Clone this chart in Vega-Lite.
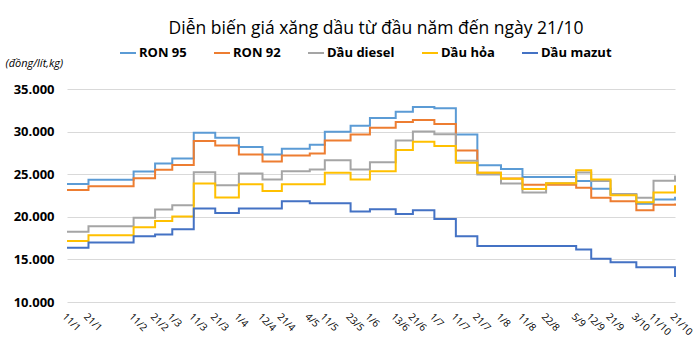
{
  "$schema": "https://vega.github.io/schema/vega-lite/v6.json",
  "autosize": {"type": "none"},
  "width": 608,
  "height": 213,
  "padding": {"left": 67, "top": 89, "right": 25, "bottom": 52},
  "background": "white",
  "config": {
    "font": "Open Sans",
    "view": {"stroke": null}
  },
  "title": {
    "text": "Diễn biến giá xăng dầu từ đầu năm đến ngày 21/10",
    "fontSize": 17.5,
    "fontWeight": "normal",
    "color": "#000000",
    "anchor": "middle",
    "offset": 7,
    "dx": 5
  },
  "data": {"values": [
    {"d":"2022/01/11","s":"RON 95","v":23850},{"d":"2022/01/11","s":"RON 92","v":23150},{"d":"2022/01/11","s":"Dầu diesel","v":18250},{"d":"2022/01/11","s":"Dầu hỏa","v":17150},{"d":"2022/01/11","s":"Dầu mazut","v":16380},
    {"d":"2022/01/21","s":"RON 95","v":24350},{"d":"2022/01/21","s":"RON 92","v":23600},{"d":"2022/01/21","s":"Dầu diesel","v":18900},{"d":"2022/01/21","s":"Dầu hỏa","v":17830},{"d":"2022/01/21","s":"Dầu mazut","v":16970},
    {"d":"2022/02/11","s":"RON 95","v":25320},{"d":"2022/02/11","s":"RON 92","v":24530},{"d":"2022/02/11","s":"Dầu diesel","v":19900},{"d":"2022/02/11","s":"Dầu hỏa","v":18770},{"d":"2022/02/11","s":"Dầu mazut","v":17710},
    {"d":"2022/02/21","s":"RON 95","v":26260},{"d":"2022/02/21","s":"RON 92","v":25510},{"d":"2022/02/21","s":"Dầu diesel","v":20850},{"d":"2022/02/21","s":"Dầu hỏa","v":19520},{"d":"2022/02/21","s":"Dầu mazut","v":17910},
    {"d":"2022/03/01","s":"RON 95","v":26850},{"d":"2022/03/01","s":"RON 92","v":26070},{"d":"2022/03/01","s":"Dầu diesel","v":21360},{"d":"2022/03/01","s":"Dầu hỏa","v":20030},{"d":"2022/03/01","s":"Dầu mazut","v":18540},
    {"d":"2022/03/11","s":"RON 95","v":29860},{"d":"2022/03/11","s":"RON 92","v":28900},{"d":"2022/03/11","s":"Dầu diesel","v":25240},{"d":"2022/03/11","s":"Dầu hỏa","v":23900},{"d":"2022/03/11","s":"Dầu mazut","v":20970},
    {"d":"2022/03/21","s":"RON 95","v":29270},{"d":"2022/03/21","s":"RON 92","v":28380},{"d":"2022/03/21","s":"Dầu diesel","v":23710},{"d":"2022/03/21","s":"Dầu hỏa","v":22260},{"d":"2022/03/21","s":"Dầu mazut","v":20460},
    {"d":"2022/04/01","s":"RON 95","v":28180},{"d":"2022/04/01","s":"RON 92","v":27320},{"d":"2022/04/01","s":"Dầu diesel","v":25080},{"d":"2022/04/01","s":"Dầu hỏa","v":23830},{"d":"2022/04/01","s":"Dầu mazut","v":20970},
    {"d":"2022/04/12","s":"RON 95","v":27320},{"d":"2022/04/12","s":"RON 92","v":26490},{"d":"2022/04/12","s":"Dầu diesel","v":24380},{"d":"2022/04/12","s":"Dầu hỏa","v":23040},{"d":"2022/04/12","s":"Dầu mazut","v":20970},
    {"d":"2022/04/21","s":"RON 95","v":28000},{"d":"2022/04/21","s":"RON 92","v":27200},{"d":"2022/04/21","s":"Dầu diesel","v":25360},{"d":"2022/04/21","s":"Dầu hỏa","v":23830},{"d":"2022/04/21","s":"Dầu mazut","v":21830},
    {"d":"2022/05/04","s":"RON 95","v":28450},{"d":"2022/05/04","s":"RON 92","v":27430},{"d":"2022/05/04","s":"Dầu diesel","v":25550},{"d":"2022/05/04","s":"Dầu hỏa","v":23830},{"d":"2022/05/04","s":"Dầu mazut","v":21590},
    {"d":"2022/05/11","s":"RON 95","v":29980},{"d":"2022/05/11","s":"RON 92","v":28960},{"d":"2022/05/11","s":"Dầu diesel","v":26650},{"d":"2022/05/11","s":"Dầu hỏa","v":25160},{"d":"2022/05/11","s":"Dầu mazut","v":21590},
    {"d":"2022/05/23","s":"RON 95","v":30690},{"d":"2022/05/23","s":"RON 92","v":29670},{"d":"2022/05/23","s":"Dầu diesel","v":25550},{"d":"2022/05/23","s":"Dầu hỏa","v":24380},{"d":"2022/05/23","s":"Dầu mazut","v":20610},
    {"d":"2022/06/01","s":"RON 95","v":31590},{"d":"2022/06/01","s":"RON 92","v":30450},{"d":"2022/06/01","s":"Dầu diesel","v":26410},{"d":"2022/06/01","s":"Dầu hỏa","v":25360},{"d":"2022/06/01","s":"Dầu mazut","v":20890},
    {"d":"2022/06/13","s":"RON 95","v":32330},{"d":"2022/06/13","s":"RON 92","v":31120},{"d":"2022/06/13","s":"Dầu diesel","v":28960},{"d":"2022/06/13","s":"Dầu hỏa","v":27830},{"d":"2022/06/13","s":"Dầu mazut","v":20340},
    {"d":"2022/06/21","s":"RON 95","v":32880},{"d":"2022/06/21","s":"RON 92","v":31350},{"d":"2022/06/21","s":"Dầu diesel","v":30020},{"d":"2022/06/21","s":"Dầu hỏa","v":28810},{"d":"2022/06/21","s":"Dầu mazut","v":20770},
    {"d":"2022/07/01","s":"RON 95","v":32730},{"d":"2022/07/01","s":"RON 92","v":30900},{"d":"2022/07/01","s":"Dầu diesel","v":29700},{"d":"2022/07/01","s":"Dầu hỏa","v":28320},{"d":"2022/07/01","s":"Dầu mazut","v":19750},
    {"d":"2022/07/11","s":"RON 95","v":29670},{"d":"2022/07/11","s":"RON 92","v":27770},{"d":"2022/07/11","s":"Dầu diesel","v":26580},{"d":"2022/07/11","s":"Dầu hỏa","v":26350},{"d":"2022/07/11","s":"Dầu mazut","v":17710},
    {"d":"2022/07/21","s":"RON 95","v":26060},{"d":"2022/07/21","s":"RON 92","v":25160},{"d":"2022/07/21","s":"Dầu diesel","v":24970},{"d":"2022/07/21","s":"Dầu hỏa","v":25160},{"d":"2022/07/21","s":"Dầu mazut","v":16580},
    {"d":"2022/08/01","s":"RON 95","v":25600},{"d":"2022/08/01","s":"RON 92","v":24500},{"d":"2022/08/01","s":"Dầu diesel","v":23900},{"d":"2022/08/01","s":"Dầu hỏa","v":24460},{"d":"2022/08/01","s":"Dầu mazut","v":16580},
    {"d":"2022/08/11","s":"RON 95","v":24660},{"d":"2022/08/11","s":"RON 92","v":23750},{"d":"2022/08/11","s":"Dầu diesel","v":22850},{"d":"2022/08/11","s":"Dầu hỏa","v":23250},{"d":"2022/08/11","s":"Dầu mazut","v":16580},
    {"d":"2022/08/22","s":"RON 95","v":24660},{"d":"2022/08/22","s":"RON 92","v":23750},{"d":"2022/08/22","s":"Dầu diesel","v":23940},{"d":"2022/08/22","s":"Dầu hỏa","v":23940},{"d":"2022/08/22","s":"Dầu mazut","v":16580},
    {"d":"2022/09/05","s":"RON 95","v":24200},{"d":"2022/09/05","s":"RON 92","v":23400},{"d":"2022/09/05","s":"Dầu diesel","v":25200},{"d":"2022/09/05","s":"Dầu hỏa","v":25450},{"d":"2022/09/05","s":"Dầu mazut","v":16150},
    {"d":"2022/09/12","s":"RON 95","v":23280},{"d":"2022/09/12","s":"RON 92","v":22230},{"d":"2022/09/12","s":"Dầu diesel","v":24200},{"d":"2022/09/12","s":"Dầu hỏa","v":24380},{"d":"2022/09/12","s":"Dầu mazut","v":15090},
    {"d":"2022/09/21","s":"RON 95","v":22580},{"d":"2022/09/21","s":"RON 92","v":21830},{"d":"2022/09/21","s":"Dầu diesel","v":22680},{"d":"2022/09/21","s":"Dầu hỏa","v":22520},{"d":"2022/09/21","s":"Dầu mazut","v":14660},
    {"d":"2022/10/03","s":"RON 95","v":21540},{"d":"2022/10/03","s":"RON 92","v":20760},{"d":"2022/10/03","s":"Dầu diesel","v":22230},{"d":"2022/10/03","s":"Dầu hỏa","v":21700},{"d":"2022/10/03","s":"Dầu mazut","v":14070},
    {"d":"2022/10/11","s":"RON 95","v":22040},{"d":"2022/10/11","s":"RON 92","v":21400},{"d":"2022/10/11","s":"Dầu diesel","v":24220},{"d":"2022/10/11","s":"Dầu hỏa","v":22840},{"d":"2022/10/11","s":"Dầu mazut","v":14070},
    {"d":"2022/10/21","s":"RON 95","v":22350},{"d":"2022/10/21","s":"RON 92","v":21560},{"d":"2022/10/21","s":"Dầu diesel","v":24850},{"d":"2022/10/21","s":"Dầu hỏa","v":23700},{"d":"2022/10/21","s":"Dầu mazut","v":12940}
  ]},
  "mark": {"type": "line", "interpolate": "step-after", "strokeWidth": 2},
  "encoding": {
    "x": {
      "field": "d",
      "type": "temporal",
      "scale": {"nice": false},
      "axis": {
        "title": null,
        "domain": false,
        "ticks": false,
        "grid": false,
        "format": "%-d/%-m",
        "labelAngle": 45,
        "labelAlign": "left",
        "labelBaseline": "top",
        "labelPadding": 9,
        "labelFontSize": 10,
        "labelColor": "#000000",
        "labelOverlap": false,
        "labelFlush": false,
        "values": [
          {"year":2022,"month":1,"date":11},{"year":2022,"month":1,"date":21},{"year":2022,"month":2,"date":11},{"year":2022,"month":2,"date":21},
          {"year":2022,"month":3,"date":1},{"year":2022,"month":3,"date":11},{"year":2022,"month":3,"date":21},{"year":2022,"month":4,"date":1},
          {"year":2022,"month":4,"date":12},{"year":2022,"month":4,"date":21},{"year":2022,"month":5,"date":4},{"year":2022,"month":5,"date":11},
          {"year":2022,"month":5,"date":23},{"year":2022,"month":6,"date":1},{"year":2022,"month":6,"date":13},{"year":2022,"month":6,"date":21},
          {"year":2022,"month":7,"date":1},{"year":2022,"month":7,"date":11},{"year":2022,"month":7,"date":21},{"year":2022,"month":8,"date":1},
          {"year":2022,"month":8,"date":11},{"year":2022,"month":8,"date":22},{"year":2022,"month":9,"date":5},{"year":2022,"month":9,"date":12},
          {"year":2022,"month":9,"date":21},{"year":2022,"month":10,"date":3},{"year":2022,"month":10,"date":11},{"year":2022,"month":10,"date":21}
        ]
      }
    },
    "y": {
      "field": "v",
      "type": "quantitative",
      "scale": {"domain": [10000, 35000], "nice": false, "zero": false},
      "axis": {
        "title": "(đồng/lít,kg)",
        "titleAngle": 0,
        "titleAlign": "left",
        "titleBaseline": "middle",
        "titleX": -62,
        "titleY": -26,
        "titleFontStyle": "italic",
        "titleFontWeight": "normal",
        "titleFontSize": 11,
        "titleColor": "#000000",
        "values": [10000, 15000, 20000, 25000, 30000, 35000],
        "labelExpr": "replace(format(datum.value, ',.0f'), ',', '.')",
        "domain": false,
        "ticks": false,
        "labelPadding": 13,
        "labelFontSize": 13,
        "labelFontWeight": "bold",
        "labelColor": "#000000",
        "gridColor": "#d9d9d9",
        "gridWidth": 1
      }
    },
    "color": {
      "field": "s",
      "type": "nominal",
      "scale": {
        "domain": ["RON 95", "RON 92", "Dầu diesel", "Dầu hỏa", "Dầu mazut"],
        "range": ["#5B9BD5", "#ED7D31", "#A5A5A5", "#FFC000", "#4472C4"]
      },
      "legend": {
        "title": null,
        "orient": "none",
        "direction": "horizontal",
        "legendX": 52,
        "legendY": -45,
        "symbolType": "stroke",
        "symbolSize": 256,
        "symbolStrokeWidth": 2,
        "labelFontSize": 13,
        "labelFontWeight": "bold",
        "labelColor": "#000000",
        "labelOffset": 2,
        "columnPadding": 23
      }
    }
  }
}
